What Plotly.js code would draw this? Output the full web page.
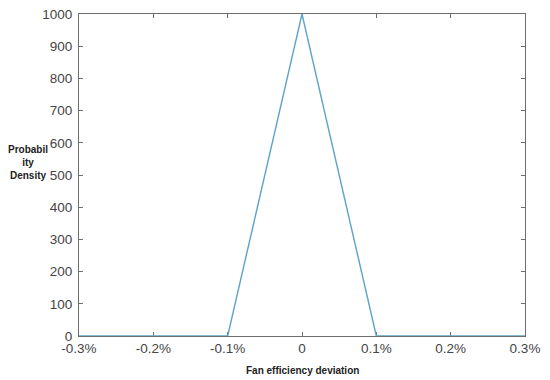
<!DOCTYPE html>
<html>
<head>
<meta charset="utf-8">
<script src="https://cdn.plot.ly/plotly-3.0.1.min.js"></script>
<style>html,body{margin:0;padding:0;background:#fff;}#chart{width:550px;height:380px;}</style>
</head>
<body>
<div id="chart"></div>
<script>
var deviation = [-0.003, -0.001, 0, 0.001, 0.003];
var density = [0, 0, 1000, 0, 0];
var xTickVals = [-0.003, -0.002, -0.001, 0, 0.001, 0.002, 0.003];
var xTickText = ['-0.3%', '-0.2%', '-0.1%', '0', '0.1%', '0.2%', '0.3%'];
var yTickVals = [0, 100, 200, 300, 400, 500, 600, 700, 800, 900, 1000];

var axisCommon = {
  showgrid: false, zeroline: false,
  showline: true, linecolor: '#6e6e6e', linewidth: 1, mirror: 'ticks',
  ticks: 'inside', ticklen: 4, tickcolor: '#6e6e6e', tickwidth: 1,
  tickfont: {family: 'Liberation Sans, Arial, sans-serif', size: 13.5, color: '#444'},
  layer: 'below traces'
};

var trace = {
  x: deviation, y: density, type: 'scatter', mode: 'lines',
  line: {color: '#5ca2cb', width: 1.4}, hoverinfo: 'none'
};

var layout = {
  width: 550, height: 380,
  margin: {l: 79, r: 25, t: 14, b: 44},
  paper_bgcolor: '#fff', plot_bgcolor: '#fff',
  showlegend: false,
  xaxis: Object.assign({}, axisCommon, {
    range: [-0.003, 0.003], tickvals: xTickVals, ticktext: xTickText
  }),
  yaxis: Object.assign({}, axisCommon, {
    range: [0, 1000], tickvals: yTickVals, ticklabelstandoff: 3
  }),
  annotations: [
    {text: '<b>Fan efficiency deviation</b>', xref: 'paper', yref: 'paper',
     x: 0.5, y: 0, yshift: -27, showarrow: false, xanchor: 'center', yanchor: 'top',
     font: {family: 'Liberation Sans, Arial, sans-serif', size: 10, color: '#222'}},
    {text: '<b>Probabil<br>ity<br>Density</b>', xref: 'paper', yref: 'paper',
     x: 0, xshift: -51, y: 0.54, showarrow: false, xanchor: 'center', yanchor: 'middle',
     align: 'center',
     font: {family: 'Liberation Sans, Arial, sans-serif', size: 10, color: '#222'}}
  ]
};

Plotly.newPlot('chart', [trace], layout, {displayModeBar: false, staticPlot: true});
</script>
</body>
</html>
